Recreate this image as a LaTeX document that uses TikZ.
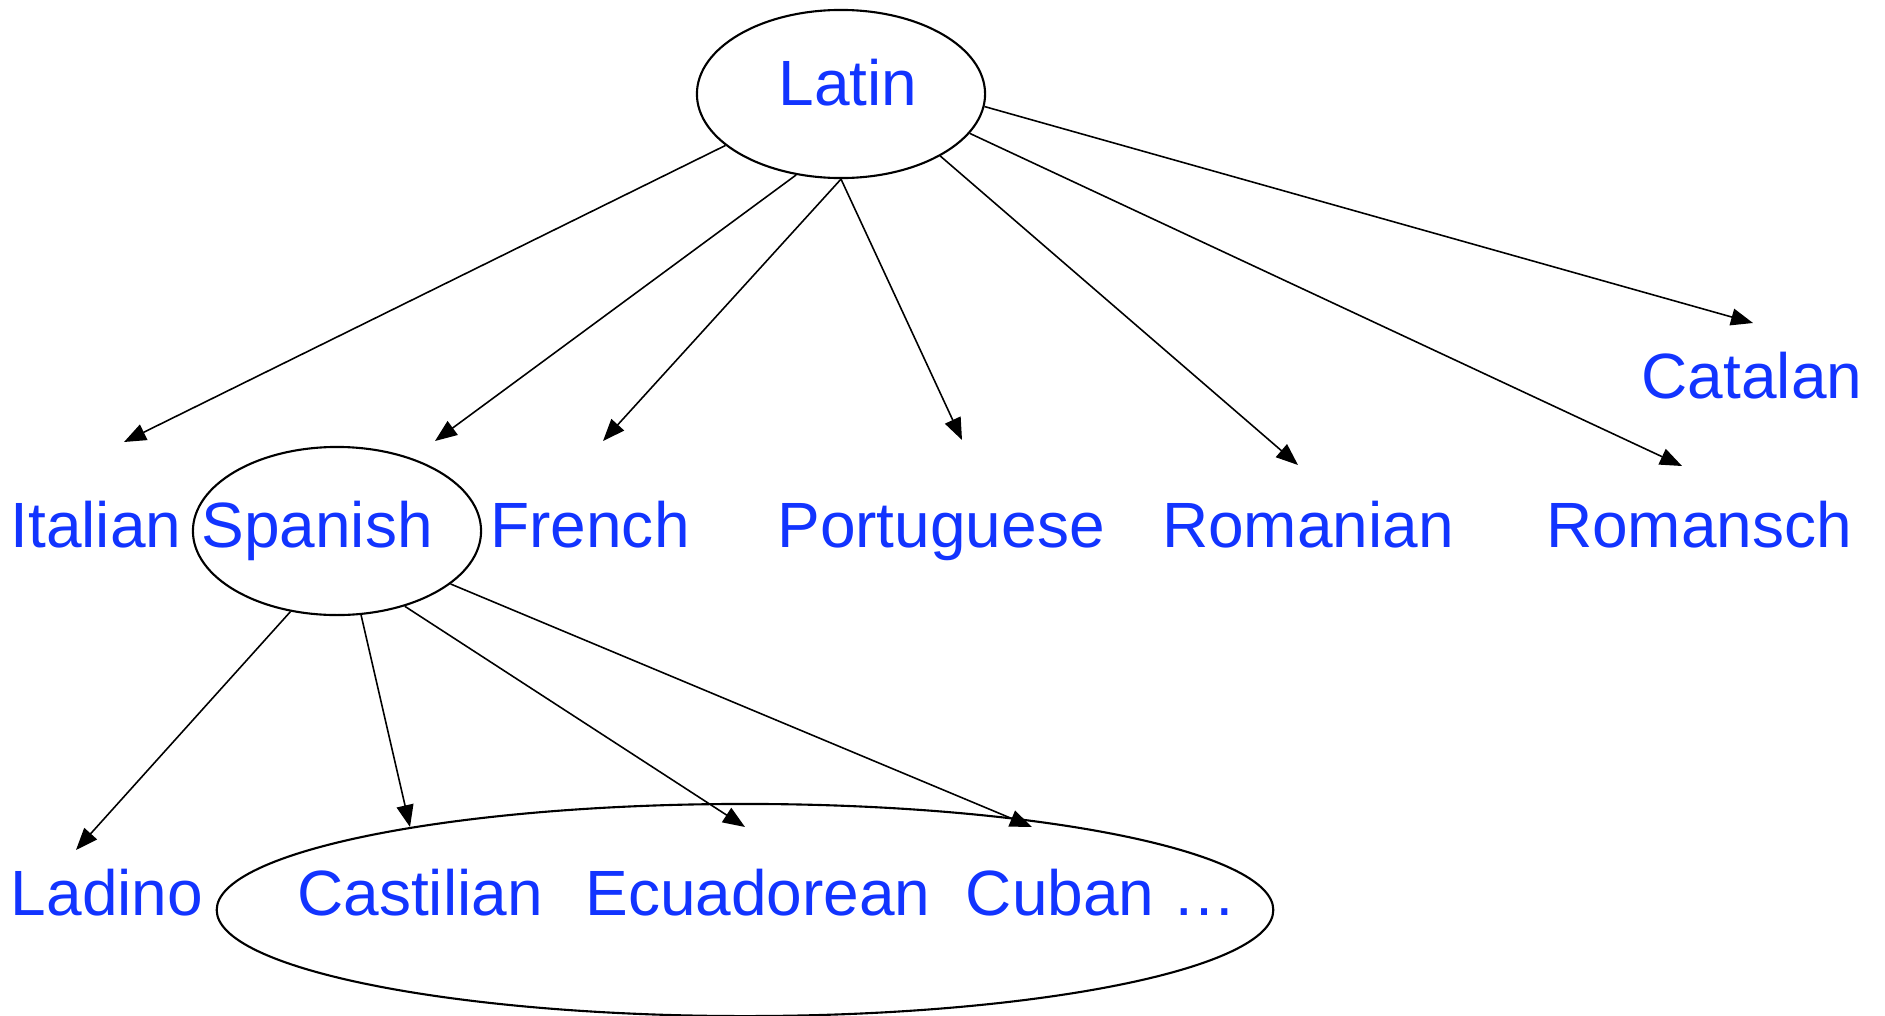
\documentclass[tikz,border=0pt]{standalone}
\usepackage{fontspec}
\setmainfont{Liberation Sans}
\usetikzlibrary{shapes.geometric,arrows.meta}
\definecolor{bleu}{RGB}{18,52,255}

\begin{document}
\begin{tikzpicture}[
    x=0.01cm, y=-0.01cm, % une unité = un pixel, y vers le bas
    % Réglages des noms de langues et des bulles
    langue/.style={text=bleu, inner sep=0, anchor=base,
        font=\fontsize{18.2}{22}\selectfont},
    bulle/.style={draw, ellipse, line width=0.6pt, inner sep=0},
    fleche/.style={-{Triangle[length=0.22cm, width=0.17cm]}, line width=0.45pt} % flèche pleine
]
\useasboundingbox (0,0) rectangle (1885,1015);

% Bulles
\node[bulle, minimum width=2.88cm, minimum height=1.68cm] (bLatin) at (841,94) {};
\node[bulle, minimum width=2.88cm, minimum height=1.68cm] (bSpanish) at (337,531) {};
\node[bulle, minimum width=10.56cm, minimum height=2.12cm] (bDialectes) at (745,910) {};

% Langues
\node[langue] (latin) at (848,105) {Latin};
\node[langue] (catalan) at (1752,398) {Catalan};
\node[langue] (italian) at (96,547) {Italian};
\node[langue] (spanish) at (317,547) {Spanish};
\node[langue] (french) at (590,547) {French};
\node[langue] (portuguese) at (941,547) {Portuguese};
\node[langue] (romanian) at (1308,547) {Romanian};
\node[langue] (romansch) at (1699,547) {Romansch};
\node[langue] (ladino) at (107,915) {Ladino};
\node[langue] (castilian) at (420,915) {Castilian};
\node[langue] (ecuadorean) at (758,915) {Ecuadorean};
\node[langue] (cuban) at (1101,915) {Cuban …};

% Pointes des flèches
\coordinate (pItalian) at (124,442);
\coordinate (pSpanish) at (435,441);
\coordinate (pFrench) at (603,441);
\coordinate (pPortuguese) at (962,440);
\coordinate (pRomanian) at (1298,465);
\coordinate (pRomansch) at (1682,466);
\coordinate (pCatalan) at (1753,323);
\coordinate (pLadino) at (76,850);
\coordinate (pCastilian) at (410,827);
\coordinate (pEcuadorean) at (745,827);
\coordinate (pCuban) at (1032,827);

% Latin -> langues romanes
\draw[fleche] (bLatin.204) -- (pItalian);
\draw[fleche] (bLatin.241) -- (pSpanish);
\draw[fleche] (bLatin.south) -- (pFrench);
\draw[fleche] (bLatin.south) -- (pPortuguese);
\draw[fleche] (bLatin.-32) -- (pRomanian);
\draw[fleche] (bLatin.-17) -- (pRomansch);
\draw[fleche] (bLatin.-5) -- (pCatalan);
% Spanish -> variantes
\draw[fleche] (bSpanish.240) -- (pLadino);
\draw[fleche] (bSpanish.-74) -- (pCastilian);
\draw[fleche] (bSpanish.-48) -- (pEcuadorean);
\draw[fleche] (bSpanish.-25) -- (pCuban);
\end{tikzpicture}
\end{document}
